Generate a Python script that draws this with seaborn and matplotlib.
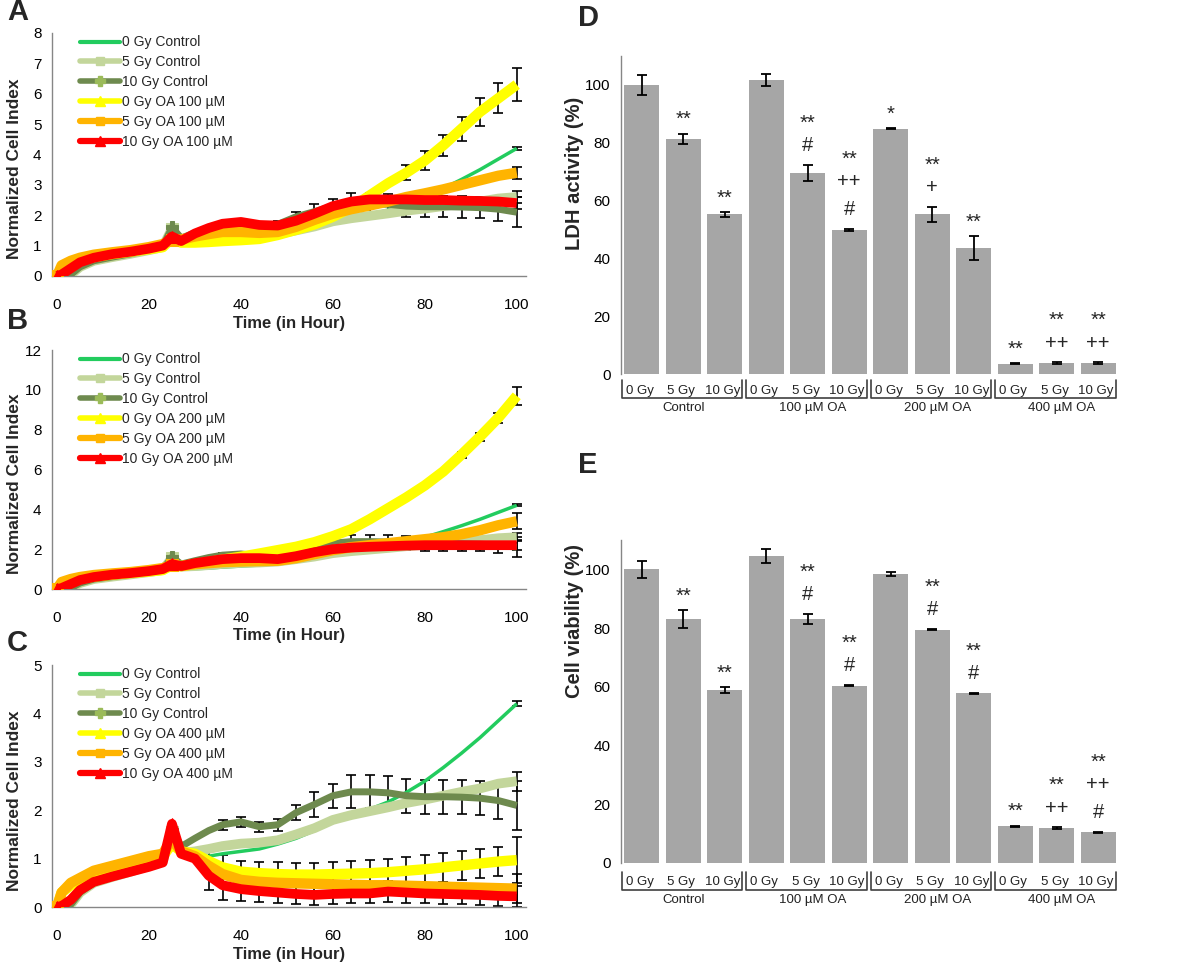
import numpy as np
import matplotlib
matplotlib.use('Agg')
import matplotlib.pyplot as plt
import matplotlib.transforms as mtransforms
from matplotlib.lines import Line2D
import seaborn as sns

#%% data
hours = [0, 1, 3, 5, 8, 12, 16, 20, 23, 25, 27, 30, 33, 36, 40, 44, 48, 52, 56, 60,
         64, 68, 72, 76, 80, 84, 88, 92, 96, 100]

# control curves (same in A, B, C)
ctrl_0gy = [0, 0, 0.05, 0.3, 0.5, 0.62, 0.73, 0.85, 0.95, 1.4, 1.05, 1.02, 1.05, 1.1, 1.15,
            1.2, 1.3, 1.42, 1.58, 1.78, 1.9, 2.02, 2.17, 2.37, 2.6, 2.88, 3.18, 3.5, 3.85, 4.2]
ctrl_5gy = [0, 0, 0.05, 0.3, 0.5, 0.62, 0.73, 0.85, 0.95, 1.55, 1.12, 1.15, 1.2, 1.26, 1.31,
            1.33, 1.38, 1.5, 1.63, 1.8, 1.9, 1.98, 2.06, 2.15, 2.22, 2.3, 2.38, 2.45, 2.55, 2.6]
ctrl_10gy = [0, 0, 0.05, 0.3, 0.5, 0.62, 0.73, 0.86, 0.97, 1.6, 1.25, 1.42, 1.58, 1.7, 1.76,
             1.66, 1.7, 1.95, 2.12, 2.3, 2.38, 2.38, 2.36, 2.3, 2.28, 2.28, 2.27, 2.25, 2.2, 2.1]
err_ctrl_0gy = [0]*29 + [0.05]
err_ctrl_5gy = [0]*29 + [0.2]
err_ctrl_10gy = [0]*13 + [0.1, 0.1, 0.1, 0.12, 0.15, 0.25, 0.25, 0.34, 0.34, 0.34, 0.35,
                          0.35, 0.35, 0.35, 0.35, 0.38, 0.5]

# OA 100 uM (A)
oa100_0gy = [0, 0.25, 0.4, 0.5, 0.62, 0.72, 0.8, 0.88, 0.95, 1.25, 1.1, 1.1, 1.12, 1.15, 1.18,
             1.22, 1.35, 1.52, 1.7, 1.95, 2.25, 2.65, 3.05, 3.4, 3.8, 4.3, 4.85, 5.4, 5.85, 6.3]
oa100_5gy = [0, 0.35, 0.5, 0.6, 0.7, 0.78, 0.85, 0.95, 1.05, 1.2, 1.2, 1.3, 1.38, 1.45, 1.45,
             1.42, 1.45, 1.62, 1.85, 2.05, 2.2, 2.32, 2.45, 2.6, 2.72, 2.85, 3.0, 3.15, 3.3, 3.4]
oa100_10gy = [0, 0.05, 0.25, 0.45, 0.6, 0.72, 0.8, 0.9, 1.0, 1.3, 1.15, 1.4, 1.58, 1.72, 1.78,
              1.68, 1.66, 1.82, 2.05, 2.3, 2.45, 2.52, 2.52, 2.52, 2.5, 2.5, 2.48, 2.47, 2.45, 2.4]
err_oa100_0gy = [0]*23 + [0.25, 0.3, 0.35, 0.4, 0.45, 0.5, 0.55]
err_oa100_5gy = [0]*29 + [0.2]
err_oa100_10gy = [0]*29 + [0.2]

# OA 200 uM (B)
oa200_0gy = [0, 0.25, 0.4, 0.5, 0.62, 0.72, 0.8, 0.88, 0.95, 1.2, 1.15, 1.25, 1.35, 1.48, 1.62,
             1.78, 1.95, 2.12, 2.35, 2.65, 3.0, 3.5, 4.05, 4.6, 5.2, 5.9, 6.75, 7.65, 8.6, 9.7]
oa200_5gy = [0, 0.35, 0.5, 0.6, 0.7, 0.78, 0.85, 0.95, 1.05, 1.2, 1.15, 1.25, 1.3, 1.35, 1.38,
             1.4, 1.42, 1.55, 1.75, 1.95, 2.1, 2.2, 2.3, 2.4, 2.5, 2.6, 2.75, 2.95, 3.2, 3.4]
oa200_10gy = [0, 0.05, 0.25, 0.45, 0.6, 0.72, 0.8, 0.9, 1.0, 1.25, 1.15, 1.3, 1.4, 1.5, 1.55,
              1.55, 1.5, 1.65, 1.85, 2.0, 2.08, 2.12, 2.15, 2.18, 2.2, 2.2, 2.2, 2.2, 2.2, 2.2]
err_oa200_0gy = [0]*26 + [0.15, 0.2, 0.25, 0.45]
err_oa200_5gy = [0]*29 + [0.4]
err_oa200_10gy = [0]*29 + [0.25]

# OA 400 uM (C)
oa400_0gy = [0, 0.3, 0.45, 0.55, 0.7, 0.8, 0.9, 1.0, 1.05, 1.3, 1.15, 1.1, 0.95, 0.82, 0.73,
             0.7, 0.68, 0.67, 0.67, 0.68, 0.69, 0.7, 0.72, 0.75, 0.78, 0.82, 0.86, 0.9, 0.94, 0.97]
oa400_5gy = [0, 0.3, 0.5, 0.6, 0.75, 0.85, 0.95, 1.05, 1.1, 1.4, 1.15, 1.05, 0.85, 0.68, 0.56,
             0.52, 0.5, 0.49, 0.48, 0.47, 0.46, 0.45, 0.45, 0.44, 0.43, 0.42, 0.41, 0.4, 0.39, 0.38]
oa400_10gy = [0, 0.02, 0.15, 0.35, 0.52, 0.63, 0.73, 0.83, 0.92, 1.72, 1.1, 1.0, 0.65, 0.45, 0.37,
              0.33, 0.3, 0.27, 0.25, 0.27, 0.28, 0.28, 0.32, 0.3, 0.28, 0.27, 0.26, 0.25, 0.23, 0.22]
err_oa400_0gy = [0]*12 + [0.2, 0.25, 0.23, 0.24, 0.25, 0.25, 0.25, 0.25, 0.26, 0.27, 0.28, 0.28,
                          0.3, 0.3, 0.3, 0.3, 0.3, 0.48]
err_oa400_5gy = [0]*29 + [0.3]
err_oa400_10gy = [0]*12 + [0.3, 0.3, 0.25, 0.23, 0.22, 0.2, 0.2, 0.2, 0.2, 0.2, 0.22, 0.22,
                           0.2, 0.2, 0.2, 0.2, 0.2, 0.22]

# bar charts (D, E)
groups = ['Control', '100 µM OA', '200 µM OA', '400 µM OA']
doses = ['0 Gy', '5 Gy', '10 Gy']
ldh_mean = [100, 81.3, 55.2, 101.7, 69.4, 49.9, 84.8, 55.2, 43.7, 3.6, 3.7, 3.7]
ldh_err = [3.4, 1.8, 0.8, 2.2, 2.8, 0.4, 0.2, 2.7, 4.1, 0.1, 0.3, 0.3]
ldh_marks = [[], ['**'], ['**'], [], ['#', '**'], ['#', '++', '**'], ['*'], ['+', '**'],
             ['**'], ['**'], ['++', '**'], ['++', '**']]
viab_mean = [100, 83.1, 58.8, 104.5, 83.1, 60.4, 98.3, 79.4, 57.8, 12.5, 11.9, 10.5]
viab_err = [2.8, 3.0, 1.0, 2.3, 1.7, 0.2, 0.7, 0.2, 0.1, 0.2, 0.2, 0.2]
viab_marks = [[], ['**'], ['**'], [], ['#', '**'], ['#', '**'], [], ['#', '**'], ['#', '**'],
              ['**'], ['++', '**'], ['#', '++', '**']]

#%% style
sns.set_style('white')
plt.rcParams['font.family'] = ['Liberation Sans', 'DejaVu Sans']
SPINE = '#868686'

# color, plot linewidth, legend linewidth, marker, marker size
styles = [
    ('#22cc5e', 2.5, 3.0, None, 0),
    ('#c3d69b', 7.0, 4.0, 's', 6),
    ('#6e8a4e', 5.0, 4.0, 'P', 7),
    ('#ffff00', 7.5, 4.0, '^', 7),
    ('#ffb400', 7.5, 4.5, 's', 6),
    ('#ff0000', 7.0, 4.5, '^', 7),
]

fig = plt.figure(figsize=(12, 9.64), dpi=100)


def style_axis(ax):
    sns.despine(ax=ax)
    for s in ['left', 'bottom']:
        ax.spines[s].set_color(SPINE)
        ax.spines[s].set_linewidth(1.0)
    ax.tick_params(axis='both', direction='out', length=4, width=1, color=SPINE,
                   labelsize=11, labelcolor='black')


def growth_panel(rect, oa_series, oa_errs, conc, ymax, ystep, letter_y):
    ax = fig.add_axes(rect)
    names = ['0 Gy Control', '5 Gy Control', '10 Gy Control',
             f'0 Gy OA {conc} µM', f'5 Gy OA {conc} µM', f'10 Gy OA {conc} µM']
    series = [ctrl_0gy, ctrl_5gy, ctrl_10gy] + oa_series
    errs = [err_ctrl_0gy, err_ctrl_5gy, err_ctrl_10gy] + oa_errs
    t = np.array(hours)
    # error bars first so the thick curves cover the inner half
    for vals, err in zip(series, errs):
        err = np.array(err)
        m = err > 0
        ax.errorbar(t[m], np.array(vals)[m], yerr=err[m], fmt='none', ecolor='black',
                    elinewidth=1.2, capsize=3.5, capthick=1.2, zorder=1)
    handles = []
    for i, (vals, (c, lw, llw, mk, ms)) in enumerate(zip(series, styles)):
        sns.lineplot(x=hours, y=vals, ax=ax, color=c, linewidth=lw, zorder=2 + i,
                     marker=mk, markersize=ms + 2, markevery=[0, 9],
                     markeredgecolor=c, solid_capstyle='butt')
        handles.append(Line2D([0], [0], color=c, lw=llw, marker=mk, markersize=ms,
                              markeredgecolor='#9bbb59' if mk == 'P' else c,
                              markerfacecolor='#9bbb59' if mk == 'P' else c))
    ax.set_xlim(-1.1, 102)
    ax.set_ylim(0, ymax)
    ax.set_xticks(range(0, 101, 20))
    ax.set_yticks(np.arange(0, ymax + 0.1, ystep))
    style_axis(ax)
    ax.tick_params(axis='x', pad=12)
    ax.set_xlabel('Time (in Hour)', fontsize=12, fontweight='bold')
    ax.set_ylabel('Normalized Cell Index', fontsize=12.5, fontweight='bold')
    ax.xaxis.label.set_va('center')
    ax.yaxis.label.set_va('center')
    ax.xaxis.set_label_coords(0.5, -0.195)
    ax.yaxis.set_label_coords(-0.078, 0.44)
    ax.legend(handles=handles, labels=names, loc='upper left', bbox_to_anchor=(0.059, 0.99),
              frameon=False, fontsize=10, handlelength=2.9, handletextpad=0.15,
              labelspacing=0.42, borderpad=0, borderaxespad=0)
    fig.text(0.006, letter_y, ax_letter[0], fontsize=21, fontweight='bold', va='center')
    ax_letter.pop(0)
    return ax


ax_letter = ['A', 'B', 'C']
growth_panel([0.0433, 0.7137, 0.395, 0.2521], [oa100_0gy, oa100_5gy, oa100_10gy],
             [err_oa100_0gy, err_oa100_5gy, err_oa100_10gy], 100, 8, 1, 0.988)
growth_panel([0.0433, 0.389, 0.395, 0.2479], [oa200_0gy, oa200_5gy, oa200_10gy],
             [err_oa200_0gy, err_oa200_5gy, err_oa200_10gy], 200, 12, 2, 0.667)
growth_panel([0.0433, 0.0591, 0.395, 0.251], [oa400_0gy, oa400_5gy, oa400_10gy],
             [err_oa400_0gy, err_oa400_5gy, err_oa400_10gy], 400, 5, 1, 0.333)


def bar_panel(rect, means, errs, marks, ylabel, label_y, brk, letter, letter_y):
    ax = fig.add_axes(rect)
    keys = [f'{g} {d}' for g in groups for d in doses]
    sns.barplot(x=keys, y=means, color='#a6a6a6', saturation=1, width=0.85,
                edgecolor='none', ax=ax)
    ax.errorbar(range(len(means)), means, yerr=errs, fmt='none', ecolor='black',
                elinewidth=1.3, capsize=3.5, capthick=1.3)
    for i, (m, e, syms) in enumerate(zip(means, errs, marks)):
        for k, s in enumerate(syms):
            off = 14 + 20 * k - (4 if '*' in s else 0)
            ax.annotate(s, xy=(i, m + e), xytext=(0, off), textcoords='offset points',
                        ha='center', va='center', fontsize=14.5)
    ax.set_xlim(-0.5, 11.5)
    ax.set_ylim(0, 110)
    ax.set_yticks(range(0, 101, 20))
    style_axis(ax)
    ax.spines['bottom'].set_visible(False)
    ax.set_xticks([])
    ax.set_xlabel('')
    ax.set_ylabel(ylabel, fontsize=14.5, fontweight='bold')
    ax.yaxis.label.set_va('center')
    ax.yaxis.set_label_coords(-0.093, label_y)
    # grouped category axis with brackets
    trans = mtransforms.blended_transform_factory(ax.transData, ax.transAxes)
    y_top, y_bot, y_dose, y_group = brk
    for g, name in enumerate(groups):
        x0, x1 = 3 * g - 0.48, 3 * g + 2.42
        ax.plot([x0, x0, x1, x1], [y_top, y_bot, y_bot, y_top], transform=trans,
                clip_on=False, color='#404040', lw=1.2)
        for j, d in enumerate(doses):
            ax.text(3 * g + j - 0.05, y_dose, d, transform=trans, ha='center', va='center',
                    fontsize=9.5, color='#222222')
        ax.text(3 * g + 1 + (0.12 if g else 0), y_group, name, transform=trans, ha='center',
                va='center', fontsize=9.5, color='#222222')
    fig.text(0.482, letter_y, letter, fontsize=21, fontweight='bold', va='center')
    return ax


bar_panel([0.5175, 0.612, 0.415, 0.330], ldh_mean, ldh_err, ldh_marks, 'LDH activity (%)',
          0.63, (-0.019, -0.075, -0.053, -0.107), 'D', 0.981)
bar_panel([0.5175, 0.1048, 0.415, 0.335], viab_mean, viab_err, viab_marks, 'Cell viability (%)',
          0.75, (-0.028, -0.084, -0.059, -0.115), 'E', 0.518)

plt.savefig('out.png', dpi=100)
